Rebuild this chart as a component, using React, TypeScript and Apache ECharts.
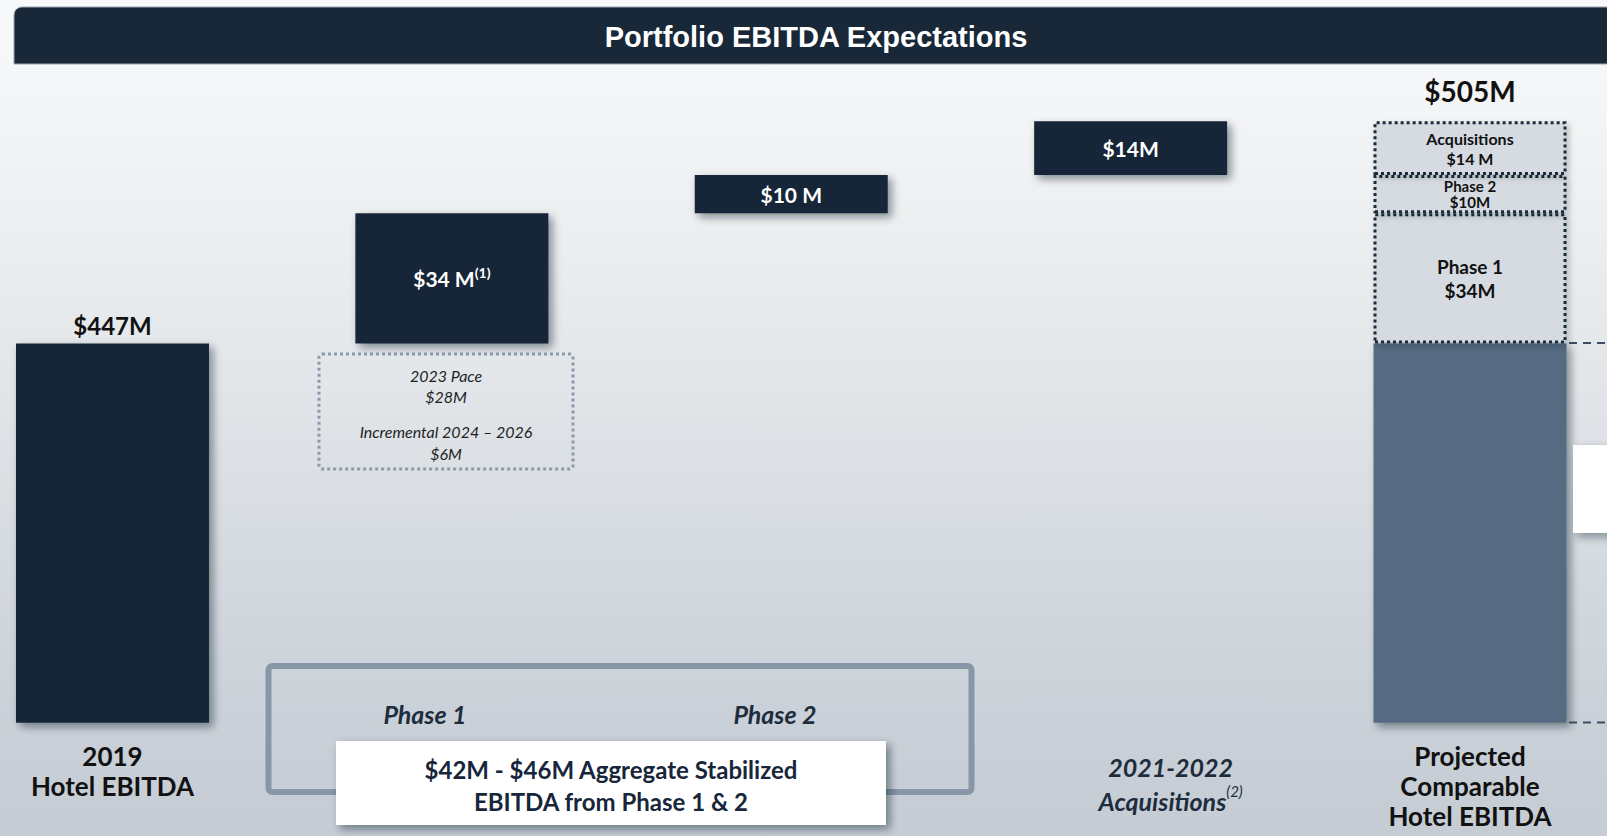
import React, { useEffect, useRef } from 'react';
import * as echarts from 'echarts';

// ---- data ($M) ----
const categories = ['2019\nHotel EBITDA', 'Phase 1', 'Phase 2', '2021-2022\nAcquisitions', 'Projected\nComparable\nHotel EBITDA'];
const categoryNotes = ['', '', '', '(2)', ''];
const baseValue = 447; // 2019 Hotel EBITDA
const incrementNames = ['Phase 1', 'Phase 2', 'Acquisitions'];
const increments = [34, 10, 14];
const incrementNotes = ['(1)', '', ''];
const projectedTotal = 505;
const paceLabels = ['2023 Pace', 'Incremental 2024 – 2026'];
const paceValues = [28, 6];
const stabilizedRange = [42, 46];
const chartTitle = 'Portfolio EBITDA Expectations';

const NAVY = '#182838';
const STEEL = '#566B82';
const FONT = 'Lato, "Open Sans", sans-serif';

function buildOption(): any {
  const n = categories.length;
  const empty = () => new Array(n).fill('-') as any[];

  // floating helper (invisible) offsets
  const helper = empty();
  let run = baseValue;
  increments.forEach((v, i) => {
    helper[i + 1] = run;
    run += v;
  });

  const baseData = empty();
  baseData[0] = {
    value: baseValue,
    itemStyle: { color: NAVY },
    label: {
      show: true, position: 'top', distance: 6,
      formatter: () => `$${baseValue}M`,
      fontFamily: FONT, fontWeight: 'bold', fontSize: 24, color: '#111111',
    },
  };
  baseData[n - 1] = { value: baseValue, itemStyle: { color: STEEL } };

  const incData = empty();
  increments.forEach((v, i) => (incData[i + 1] = v));

  const shadow = {
    shadowColor: 'rgba(15,25,35,0.45)', shadowBlur: 8, shadowOffsetX: 4, shadowOffsetY: 4,
  };

  const series: any[] = [
    {
      name: 'helper', type: 'bar', stack: 'w', data: helper, silent: true,
      itemStyle: { color: 'transparent' }, barWidth: 193, barGap: '-100%', clip: true,
    },
    {
      name: 'Hotel EBITDA', type: 'bar', stack: 'w', data: baseData, silent: true,
      itemStyle: { ...shadow }, barWidth: 193, barGap: '-100%', clip: true,
    },
    {
      name: 'Increments', type: 'bar', stack: 'w', data: incData, silent: true,
      itemStyle: { color: NAVY, ...shadow }, barWidth: 193, barGap: '-100%', clip: true,
      label: {
        show: true, position: 'inside',
        formatter: (p: any) => {
          const k = p.dataIndex - 1;
          const sep = k === 2 ? '' : ' ';
          const note = incrementNotes[k];
          return `{v|$${p.value}${sep}M}` + (note ? `{sup|${note}}` : '');
        },
        rich: {
          v: { fontFamily: FONT, fontWeight: 'bold', fontSize: 21, color: '#ffffff', lineHeight: 26 },
          sup: { fontFamily: FONT, fontWeight: 'bold', fontSize: 14, color: '#ffffff', verticalAlign: 'top' },
        },
      },
    },
  ];

  const segFont = [19, 15, 16];
  const segLH = [24, 16, 20];
  increments.forEach((v, i) => {
    const d = empty();
    d[n - 1] = v;
    series.push({
      name: 'Projected ' + incrementNames[i], type: 'bar', stack: 'w', data: d, silent: true,
      barWidth: 193, barGap: '-100%', clip: true,
      itemStyle: {
        color: '#D5DBE1', borderColor: '#1B2B3B', borderWidth: 3, borderType: [3, 3],
        shadowColor: 'rgba(15,25,35,0.25)', shadowBlur: 6, shadowOffsetX: 3, shadowOffsetY: 3,
      },
      label: {
        show: true, position: 'inside',
        formatter: () => `${incrementNames[i]}\n$${v}${i === 2 ? ' ' : ''}M`,
        fontFamily: FONT, fontWeight: 'bold', fontSize: segFont[i], lineHeight: segLH[i], color: '#111111',
      },
    });
  });

  const totalData = empty();
  totalData[n - 1] = projectedTotal;
  series.push({
    name: 'Total', type: 'bar', stack: 'total', data: totalData, silent: true,
    barWidth: 193, barGap: '-100%', clip: true,
    itemStyle: { color: 'transparent' },
    label: {
      show: true, position: 'top', distance: 16,
      formatter: () => `$${projectedTotal}M`,
      fontFamily: FONT, fontWeight: 'bold', fontSize: 28, color: '#111111',
    },
  });

  const xData = categories.map((c, i) =>
    i === 3 ? { value: c, textStyle: { padding: [9, 0, 0, 80] } } : c
  );

  const graphic: any[] = [
    // title bar
    {
      type: 'rect', z: 10, shape: { x: 14, y: 7, width: 1610, height: 57, r: [8, 0, 0, 0] },
      style: { fill: NAVY, stroke: '#9aa4ae', lineWidth: 1 },
    },
    {
      type: 'text', z: 11, x: 816, y: 37,
      style: {
        text: chartTitle, fill: '#ffffff', fontFamily: '"Liberation Sans", Arial, sans-serif',
        fontWeight: 'bold', fontSize: 29, align: 'center', verticalAlign: 'middle',
      },
    },
    // dotted breakdown box under Phase 1
    {
      type: 'rect', z: 10, shape: { x: 319, y: 354, width: 254, height: 115, r: 3 },
      style: { fill: 'none', stroke: '#8A9AAB', lineWidth: 3, lineDash: [3, 3] },
    },
    {
      type: 'text', z: 11, x: 446, y: 386,
      style: {
        text: `${paceLabels[0]}\n$${paceValues[0]}M`, fill: '#1f1f1f', fontFamily: FONT,
        fontStyle: 'italic', fontSize: 16, lineHeight: 21, align: 'center', verticalAlign: 'middle',
      },
    },
    {
      type: 'text', z: 11, x: 446, y: 442,
      style: {
        text: `${paceLabels[1]}\n$${paceValues[1]}M`, fill: '#1f1f1f', fontFamily: FONT,
        fontStyle: 'italic', fontSize: 16, lineHeight: 22, align: 'center', verticalAlign: 'middle',
      },
    },
    // bracket box for phase 1 & 2
    {
      type: 'rect', z: 10, shape: { x: 268.5, y: 666, width: 703, height: 126, r: 4 },
      style: { fill: 'none', stroke: '#8797A8', lineWidth: 6 },
    },
    {
      type: 'text', z: 11, x: 425, y: 714,
      style: {
        text: categories[1], fill: '#1E2D3D', fontFamily: FONT, fontStyle: 'italic',
        fontWeight: 'bold', fontSize: 25, align: 'center', verticalAlign: 'middle',
      },
    },
    {
      type: 'text', z: 11, x: 775, y: 714,
      style: {
        text: categories[2], fill: '#1E2D3D', fontFamily: FONT, fontStyle: 'italic',
        fontWeight: 'bold', fontSize: 25, align: 'center', verticalAlign: 'middle',
      },
    },
    {
      type: 'rect', z: 12, shape: { x: 336, y: 741, width: 550, height: 84 },
      style: {
        fill: '#ffffff', shadowColor: 'rgba(15,25,35,0.45)', shadowBlur: 8, shadowOffsetX: 4, shadowOffsetY: 4,
      },
    },
    {
      type: 'text', z: 13, x: 611, y: 785,
      style: {
        text: `$${stabilizedRange[0]}M - $${stabilizedRange[1]}M Aggregate Stabilized\nEBITDA from Phase 1 & 2`,
        fill: '#17263A', fontFamily: FONT, fontWeight: 'bold', fontSize: 24, lineHeight: 32,
        align: 'center', verticalAlign: 'middle',
      },
    },
    // cut-off continuation on the right edge
    {
      type: 'line', z: 10, shape: { x1: 1569, y1: 343, x2: 1607, y2: 343 },
      style: { stroke: '#3A4D62', lineWidth: 2, lineDash: [8, 6] },
    },
    {
      type: 'line', z: 10, shape: { x1: 1569, y1: 722.5, x2: 1607, y2: 722.5 },
      style: { stroke: '#3A4D62', lineWidth: 2, lineDash: [8, 6] },
    },
    {
      type: 'rect', z: 10, shape: { x: 1573, y: 445, width: 60, height: 88 },
      style: {
        fill: '#ffffff', shadowColor: 'rgba(15,25,35,0.4)', shadowBlur: 8, shadowOffsetX: 4, shadowOffsetY: 4,
      },
    },
  ];

  return {
    animation: false,
    backgroundColor: 'transparent',
    grid: {
      left: -57.2, right: -32.7, top: 63.8, bottom: 113.3,
      containLabel: false, outerBoundsMode: 'none',
    },
    xAxis: {
      type: 'category',
      data: xData,
      axisLine: { show: false },
      axisTick: { show: false },
      splitLine: { show: false },
      axisLabel: {
        interval: 0,
        margin: 18,
        formatter: (v: string, i: number) => {
          if (i === 1 || i === 2) return '';
          const lines = v.split('\n');
          if (i === 3) {
            return lines
              .map((l, k) => `{acq|${l}}` + (k === lines.length - 1 && categoryNotes[i] ? `{sup|${categoryNotes[i]}}` : ''))
              .join('\n');
          }
          return lines.map((l) => `{main|${l}}`).join('\n');
        },
        rich: {
          main: { fontFamily: FONT, fontWeight: 'bold', fontSize: 26, color: '#111111', lineHeight: 30 },
          acq: { fontFamily: FONT, fontWeight: 'bold', fontStyle: 'italic', fontSize: 25, color: '#1E2D3D', lineHeight: 34 },
          sup: { fontFamily: FONT, fontStyle: 'italic', fontSize: 15, color: '#1E2D3D', verticalAlign: 'top' },
        },
      },
    },
    yAxis: { type: 'value', min: 348, max: 520, show: false },
    series,
    graphic,
  };
}

export default function App() {
  const ref = useRef<HTMLDivElement>(null);
  useEffect(() => {
    if (!ref.current) return;
    const chart = echarts.init(ref.current, null, { renderer: 'svg' });
    chart.setOption(buildOption());
    return () => chart.dispose();
  }, []);
  return (
    <div
      ref={ref}
      style={{
        position: 'absolute', left: 0, top: 0, width: 1607, height: 836,
        background: 'linear-gradient(to bottom, #F8F9FA 0%, #F5F6F7 10%, #E5E8EB 41%, #CAD1D8 84%, #C5CCD4 100%)',
      }}
    />
  );
}
